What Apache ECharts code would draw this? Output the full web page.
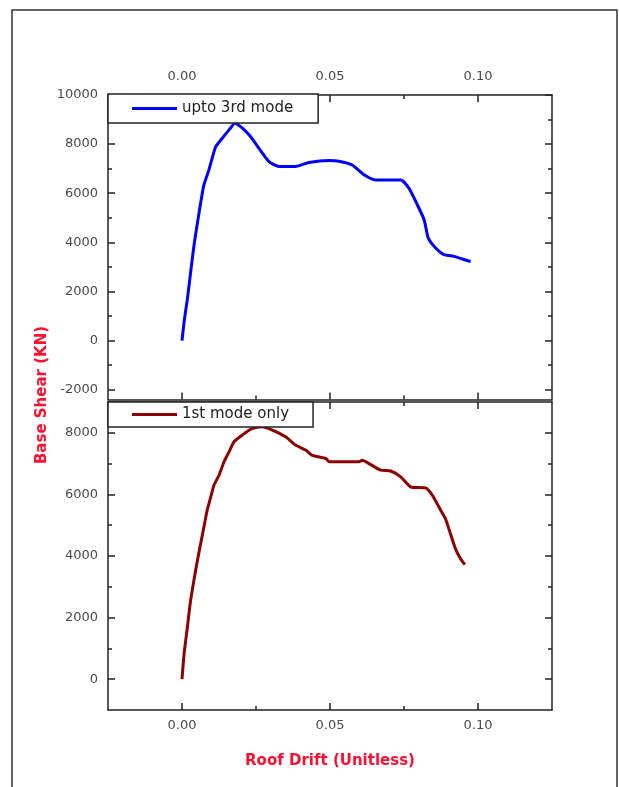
<!DOCTYPE html>
<html><head><meta charset="utf-8">
<script src="https://cdn.jsdelivr.net/npm/echarts@6/dist/echarts.min.js"></script>
<style>html,body{margin:0;padding:0;background:#fff}#c{width:619px;height:787px}</style>
</head><body><div id="c"></div>
<script>
// ---- data ----
const seriesNames = ['upto 3rd mode', '1st mode only'];
const drift3rd = [0,0.0008,0.0018,0.0029,0.004,0.0052,0.0063,0.0074,0.0091,0.0102,0.0114,0.0136,0.0159,0.0179,0.0204,0.0232,0.026,0.0294,0.0328,0.0384,0.0429,0.0497,0.053,0.0575,0.0615,0.0654,0.0739,0.0767,0.0795,0.0818,0.0832,0.0857,0.0885,0.0919,0.0947,0.0975];
const shear3rd = [0,850,1670,2760,3830,4780,5600,6340,6950,7430,7900,8240,8580,8850,8650,8300,7830,7290,7090,7090,7250,7330,7300,7150,6750,6540,6540,6200,5530,4920,4170,3770,3500,3430,3320,3220];
const drift1st = [0,0.0007,0.0018,0.0029,0.004,0.0052,0.0063,0.0074,0.0085,0.0097,0.0108,0.0125,0.0142,0.0159,0.0176,0.0204,0.0238,0.0271,0.0305,0.035,0.0384,0.0418,0.044,0.0486,0.0497,0.0598,0.0609,0.0632,0.0671,0.0705,0.0739,0.0773,0.0823,0.0846,0.0868,0.089,0.0907,0.0924,0.0941,0.0956];
const shear1st = [0,810,1680,2550,3200,3850,4400,4940,5480,5910,6300,6620,7060,7380,7710,7930,8140,8200,8090,7870,7600,7440,7270,7170,7060,7060,7110,7000,6790,6760,6570,6240,6210,5970,5590,5210,4720,4230,3910,3720];
const xMajor = [0, 0.05, 0.1];
const xMinor = [0.025, 0.075];
const yMajorTop = [-2000, 0, 2000, 4000, 6000, 8000, 10000];
const yMinorTop = [-1000, 1000, 3000, 5000, 7000, 9000];
const yMajorBot = [0, 2000, 4000, 6000, 8000];
const yMinorBot = [1000, 3000, 5000, 7000];

const zip = (a, b) => a.map((v, i) => [v, b[i]]);
const lineC = '#222';
const labelStyle = { color: '#4a4a4a', fontFamily: 'DejaVu Sans', fontSize: 13 };
const gridTop = { left: 108, right: 67, top: 95, height: 304.5 };
const gridBot = { left: 108, right: 67, top: 402, height: 308 };

function xAxis(grid, pos, ticks, len, line, labels, extra) {
  return Object.assign({
    type: 'value', gridIndex: grid, position: pos, min: -0.025, max: 0.125,
    axisLine: { show: line, onZero: false, lineStyle: { color: lineC, width: 1.5 } },
    axisTick: { show: true, inside: true, length: len, customValues: ticks, lineStyle: { color: lineC, width: 1.5 } },
    axisLabel: labels ? Object.assign({ show: true, customValues: xMajor, margin: pos === 'top' ? 12 : 9,
      formatter: v => v.toFixed(2) }, labelStyle) : { show: false },
    splitLine: { show: false }
  }, extra || {});
}
function yAxis(grid, pos, min, max, ticks, majors, len, line, labels) {
  return {
    type: 'value', gridIndex: grid, position: pos, min: min, max: max,
    axisLine: { show: line, onZero: false, lineStyle: { color: lineC, width: 1.5 } },
    axisTick: { show: true, inside: true, length: len, customValues: ticks, lineStyle: { color: lineC, width: 1.5 } },
    axisLabel: labels ? Object.assign({ show: true, customValues: majors, margin: 10,
      formatter: v => String(v) }, labelStyle) : { show: false },
    splitLine: { show: false }
  };
}
function legend(name, top, pad) {
  return { data: [{ name: name, icon: 'rect' }], left: 108, top: top, orient: 'horizontal',
    padding: pad, itemWidth: 45, itemHeight: 3, itemGap: 5,
    backgroundColor: '#fff', borderColor: lineC, borderWidth: 1.5, borderRadius: 0,
    textStyle: { color: '#222', fontFamily: 'DejaVu Sans', fontSize: 15, lineHeight: 14 } };
}

const option = {
  backgroundColor: '#fff',
  animation: false,
  grid: [gridTop, gridBot, Object.assign({}, gridTop), Object.assign({}, gridBot)],
  xAxis: [
    xAxis(0, 'top', xMajor, 7, true, true),
    xAxis(0, 'bottom', xMajor, 7, true, false),
    xAxis(1, 'bottom', xMajor, 7, true, true, {
      name: 'Roof Drift (Unitless)', nameLocation: 'middle', nameGap: 44,
      nameTextStyle: { color: '#ff1030', fontFamily: 'DejaVu Sans', fontWeight: 'bold', fontSize: 15 }
    }),
    xAxis(1, 'top', xMajor, 7, true, false),
    xAxis(2, 'top', xMinor, 4, false, false),
    xAxis(2, 'bottom', xMinor, 4, false, false),
    xAxis(3, 'bottom', xMinor, 4, false, false),
    xAxis(3, 'top', xMinor, 4, false, false)
  ],
  yAxis: [
    yAxis(0, 'left', -2400, 10000, yMajorTop, yMajorTop, 7, true, true),
    yAxis(0, 'right', -2400, 10000, yMajorTop, yMajorTop, 7, true, false),
    yAxis(1, 'left', -1000, 9000, yMajorBot, yMajorBot, 7, true, true),
    yAxis(1, 'right', -1000, 9000, yMajorBot, yMajorBot, 7, true, false),
    yAxis(2, 'left', -2400, 10000, yMinorTop, null, 4, false, false),
    yAxis(2, 'right', -2400, 10000, yMinorTop, null, 4, false, false),
    yAxis(3, 'left', -1000, 9000, yMinorBot, null, 4, false, false),
    yAxis(3, 'right', -1000, 9000, yMinorBot, null, 4, false, false)
  ],
  legend: [
    legend(seriesNames[0], 94, [7, 25, 7, 24]),
    legend(seriesNames[1], 402, [5, 24, 5, 24])
  ],
  series: [
    { name: seriesNames[0], type: 'line', xAxisIndex: 0, yAxisIndex: 0, symbol: 'none',
      smooth: 0.2,
      lineStyle: { color: '#0000ff', width: 3 }, itemStyle: { color: '#0000ff' },
      data: zip(drift3rd, shear3rd) },
    { name: seriesNames[1], type: 'line', xAxisIndex: 2, yAxisIndex: 2, symbol: 'none',
      smooth: 0.2,
      lineStyle: { color: '#8b0000', width: 3 }, itemStyle: { color: '#8b0000' },
      data: zip(drift1st, shear1st) }
  ],
  graphic: [
    { type: 'rect', shape: { x: 12, y: 10, width: 605, height: 800 }, silent: true, z: -10,
      style: { fill: 'none', stroke: '#333', lineWidth: 1.5 } },
    { type: 'text', x: 42, y: 395, rotation: Math.PI / 2, silent: true,
      style: { text: 'Base Shear (KN)', fill: '#ff1030', font: 'bold 15px "DejaVu Sans"',
        textAlign: 'center', textVerticalAlign: 'middle' } }
  ]
};
const chart = echarts.init(document.getElementById('c'), null, { renderer: 'canvas' });
chart.setOption(option);
</script></body></html>
